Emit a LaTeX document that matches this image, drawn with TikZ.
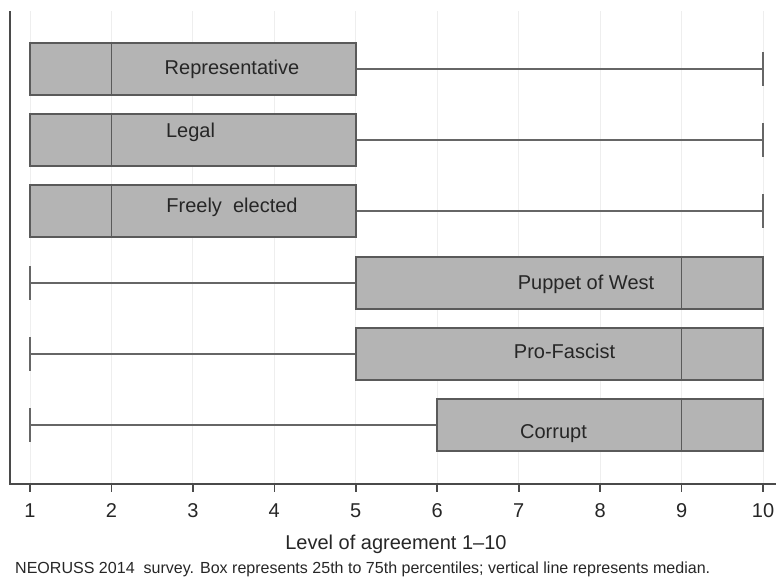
\documentclass[tikz,border=0pt]{standalone}
\usepackage{fontspec}
\setmainfont{Liberation Sans}
\definecolor{boxfill}{HTML}{B4B4B4}
\definecolor{boxline}{HTML}{5A5A5A}
\definecolor{whisk}{HTML}{666666}
\definecolor{axisc}{HTML}{4A4A4A}
\definecolor{gridc}{HTML}{EEEEEE}
\begin{document}
\begin{tikzpicture}[x=1pt,y=-1pt,
  bx/.style={fill=boxfill,draw=boxline,line width=1.6pt},
  wk/.style={draw=whisk,line width=1.6pt},
  gridline/.style={draw=gridc,line width=1pt},
  axisline/.style={draw=axisc,line width=1.6pt},
  lbl/.style={anchor=base,font=\fontsize{20}{24}\selectfont,inner sep=0pt,text=black!85},
  ticklbl/.style={anchor=base,font=\fontsize{20}{24}\selectfont,inner sep=0pt,text=black!85}]
\useasboundingbox (0,0) rectangle (779,576);
% x positions
\def\xa{30}\def\xb{111.4}\def\xc{192.9}\def\xd{274.3}\def\xe{355.8}
\def\xf{437.2}\def\xg{518.7}\def\xh{600.1}\def\xi{681.6}\def\xj{763}
% grid lines
\foreach \gx in {\xa,\xb,\xc,\xd,\xe,\xf,\xg,\xh,\xi,\xj}
  \draw[gridline] (\gx,11) -- (\gx,483);
% --- Representative (row 69)
\draw[wk] (\xe,69) -- (\xj,69);
\draw[wk] (\xj,52) -- (\xj,86);
\draw[bx] (\xa,43) rectangle (\xe,95);
\draw[boxline,line width=1.6pt] (\xb,43) -- (\xb,95);
\node[lbl] (rep) at (232,74) {Representative};
% --- Legal (row 140)
\draw[wk] (\xe,140) -- (\xj,140);
\draw[wk] (\xj,123) -- (\xj,157);
\draw[bx] (\xa,114) rectangle (\xe,166);
\draw[boxline,line width=1.6pt] (\xb,114) -- (\xb,166);
\node[lbl] (leg) at (190.5,137) {Legal};
% --- Freely elected (row 211)
\draw[wk] (\xe,211) -- (\xj,211);
\draw[wk] (\xj,194) -- (\xj,228);
\draw[bx] (\xa,185) rectangle (\xe,237);
\draw[boxline,line width=1.6pt] (\xb,185) -- (\xb,237);
\node[lbl] (free) at (232,212) {Freely\ \ elected};
% --- Puppet of West (row 283)
\draw[wk] (\xa,283) -- (\xe,283);
\draw[wk] (\xa,266) -- (\xa,300);
\draw[bx] (\xe,257) rectangle (\xj,309);
\draw[boxline,line width=1.6pt] (\xi,257) -- (\xi,309);
\node[lbl] (pup) at (586,289) {Puppet of West};
% --- Pro-Fascist (row 354)
\draw[wk] (\xa,354) -- (\xe,354);
\draw[wk] (\xa,337) -- (\xa,371);
\draw[bx] (\xe,328) rectangle (\xj,380);
\draw[boxline,line width=1.6pt] (\xi,328) -- (\xi,380);
\node[lbl] (pro) at (564.5,358) {Pro-Fascist};
% --- Corrupt (row 425)
\draw[wk] (\xa,425) -- (\xf,425);
\draw[wk] (\xa,408) -- (\xa,442);
\draw[bx] (\xf,399) rectangle (\xj,451);
\draw[boxline,line width=1.6pt] (\xi,399) -- (\xi,451);
\node[lbl] (cor) at (553.5,438) {Corrupt};
% axes
\draw[axisline] (10,11) -- (10,484) -- (776,484);
\foreach \gx/\t in {\xa/1,\xb/2,\xc/3,\xd/4,\xe/5,\xf/6,\xg/7,\xh/8,\xi/9,\xj/10}{
  \draw[axisline] (\gx,484) -- (\gx,492);
  \node[ticklbl] (t\t) at (\gx,517) {\t};
}
\node[anchor=base,inner sep=0pt,font=\fontsize{20}{24}\selectfont,text=black!85] (xtitle) at (396,549) {Level of agreement 1--10};
\node[anchor=base west,inner sep=0pt,text=black!85] (cap) at (15,573) {\resizebox{695pt}{!}{\fontsize{15.5}{18}\selectfont NEORUSS 2014\ \ survey. Box represents 25th to 75th percentiles; vertical line represents median.}};
\end{tikzpicture}
\end{document}
